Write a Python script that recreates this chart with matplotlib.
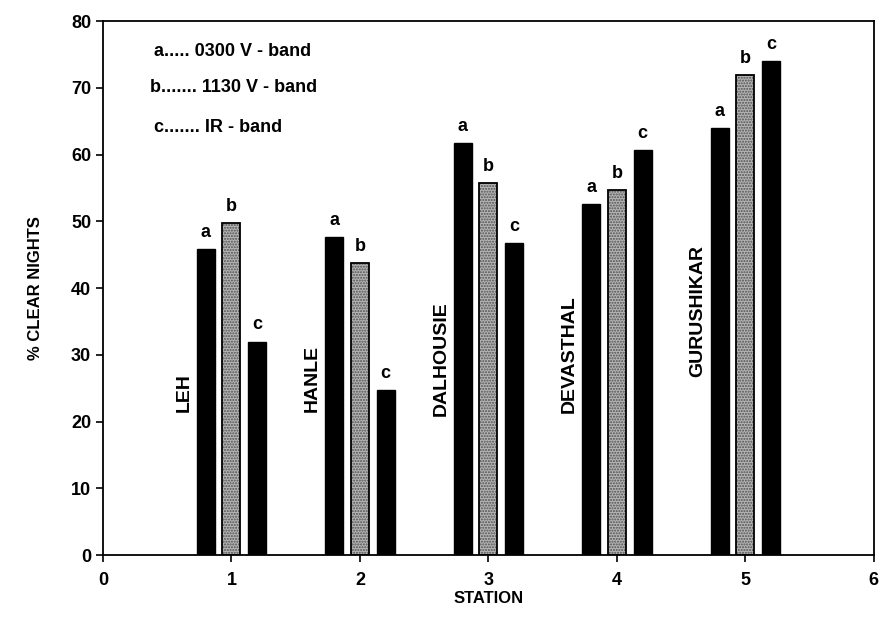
import matplotlib
matplotlib.use('Agg')
import matplotlib.pyplot as plt
import numpy as np

plt.rcParams['font.family'] = ['Liberation Sans', 'DejaVu Sans']
plt.rcParams['font.weight'] = 'bold'

# data
stations = [1, 2, 3, 4, 5]
station_names = ['LEH', 'HANLE', 'DALHOUSIE', 'DEVASTHAL', 'GURUSHIKAR']
band_a = [45.8, 47.7, 61.8, 52.6, 64.0]   # 0300 V - band
band_b = [49.8, 43.7, 55.7, 54.7, 72.0]   # 1130 V - band
band_c = [32.0, 24.8, 46.7, 60.7, 74.0]   # IR - band
name_y = [24.3, 26.5, 29.4, 30.1, 36.6]
legend_lines = ['a..... 0300 V - band', 'b....... 1130 V - band', 'c....... IR - band']

fig = plt.figure(figsize=(8.8, 6.25), dpi=100)
ax = fig.add_axes([0.117, 0.112, 0.876, 0.854])

x = np.array(stations, dtype=float)
w = 0.14
off = 0.2

ax.bar(x - off, band_a, width=w, color='black', edgecolor='black', zorder=2)
# stippled grey bars
ax.bar(x, band_b, width=w, color='#b5b5b5', edgecolor='#505050', hatch='......', lw=0, zorder=2)
ax.bar(x, band_b, width=w, fill=False, edgecolor='black', lw=1.3, zorder=3)
ax.bar(x + off, band_c, width=w, color='black', edgecolor='black', zorder=2)

for xi, a, b, c in zip(x, band_a, band_b, band_c):
    ax.text(xi - off, a + 1.2, 'a', ha='center', va='bottom', fontsize=13, fontweight='bold')
    ax.text(xi, b + 1.2, 'b', ha='center', va='bottom', fontsize=13, fontweight='bold')
    ax.text(xi + off, c + 1.2, 'c', ha='center', va='bottom', fontsize=13, fontweight='bold')

for xi, name, ny in zip(x, station_names, name_y):
    ax.text(xi - 0.37, ny, name, rotation=90, ha='center', va='center',
            fontsize=14, fontweight='bold')

for i, line in enumerate(legend_lines):
    ax.text(0.40 - (0.03 if i == 1 else 0), [75.4, 70.0, 64.0][i], line,
            ha='left', va='center', fontsize=13, fontweight='bold')

ax.set_xlim(0, 6)
ax.set_ylim(0, 80)
ax.set_xticks(range(0, 7))
ax.set_yticks(range(0, 81, 10))
ax.tick_params(axis='both', labelsize=13, direction='out', length=5, width=1.2)
ax.tick_params(axis='x', pad=7)
for lab in ax.get_xticklabels() + ax.get_yticklabels():
    lab.set_fontweight('bold')
for s in ax.spines.values():
    s.set_linewidth(1.3)

ax.set_xlabel('STATION', fontsize=12, fontweight='bold', labelpad=2)
ax.set_ylabel('% CLEAR NIGHTS', fontsize=12, fontweight='bold', labelpad=20)

fig.savefig('out.png', dpi=100, facecolor='white')
